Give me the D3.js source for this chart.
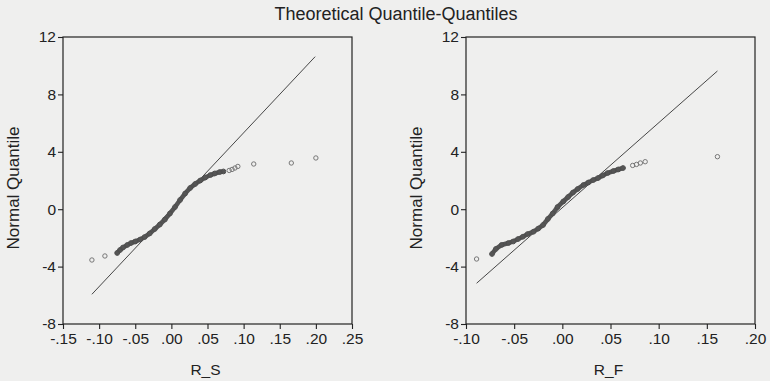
<!DOCTYPE html>
<html>
<head>
<meta charset="utf-8">
<script src="https://cdn.jsdelivr.net/npm/d3@7"></script>
<style>
  body { margin: 0; background: #efefee; }
  svg { display: block; }
  text { font-family: "Liberation Sans", Arial, sans-serif; fill: #222; }
</style>
</head>
<body>
<svg id="chart" width="770" height="381"></svg>
<script>
// shared axis ticks
const yTicks = [-8, -4, 0, 4, 8, 12];
const rsTicks = [-0.15, -0.10, -0.05, 0.00, 0.05, 0.10, 0.15, 0.20, 0.25];
const rfTicks = [-0.10, -0.05, 0.00, 0.05, 0.10, 0.15, 0.20];

// R_S: [sample quantile, normal quantile]
const rsBand = [
    [-0.075, -3.05], [-0.071, -2.84], [-0.067, -2.67], [-0.061, -2.49], [-0.056, -2.36],
    [-0.050, -2.25], [-0.043, -2.11], [-0.037, -1.94], [-0.030, -1.69], [-0.023, -1.38],
    [-0.016, -1.07], [-0.009, -0.72], [-0.002, -0.30], [0.005, 0.15], [0.012, 0.64],
    [0.019, 1.09], [0.026, 1.48], [0.033, 1.76], [0.040, 2.00], [0.047, 2.21],
    [0.054, 2.38], [0.060, 2.49], [0.067, 2.59], [0.072, 2.63]
];
const rsSparse = [
    [-0.110, -3.54], [-0.092, -3.26],
    [0.080, 2.70], [0.084, 2.77], [0.088, 2.87], [0.092, 2.98],
    [0.114, 3.15], [0.166, 3.22], [0.200, 3.57]
];
const rsLine = [[-0.110, -5.93], [0.199, 10.63]];

// R_F
const rfBand = [
    [-0.073, -3.12], [-0.069, -2.77], [-0.063, -2.49], [-0.056, -2.36], [-0.051, -2.25],
    [-0.046, -2.08], [-0.041, -1.92], [-0.036, -1.73], [-0.030, -1.57], [-0.025, -1.35],
    [-0.020, -1.10], [-0.015, -0.68], [-0.010, -0.30], [-0.005, 0.15], [0.001, 0.54],
    [0.006, 0.85], [0.011, 1.16], [0.016, 1.41], [0.022, 1.69], [0.027, 1.86],
    [0.032, 2.03], [0.037, 2.17], [0.042, 2.35], [0.047, 2.52], [0.053, 2.66],
    [0.058, 2.77], [0.063, 2.87]
];
const rfSparse = [
    [-0.089, -3.47],
    [0.073, 3.05], [0.077, 3.12], [0.081, 3.22], [0.086, 3.31],
    [0.161, 3.66]
];
const rfLine = [[-0.089, -5.16], [0.161, 9.63]];

const svg = d3.select("#chart");

svg.append("text")
    .attr("x", 396).attr("y", 20)
    .attr("text-anchor", "middle")
    .style("font-size", "18px")
    .text("Theoretical Quantile-Quantiles");

function tickLabel(d) {
    // EViews style: ".05", "-.10"
    return d.toFixed(2).replace("0.", ".");
}

function drawPanel(p) {
    const x = d3.scaleLinear().domain([p.ticks[0], p.ticks[p.ticks.length - 1]]).range([p.left, p.right]);
    const y = d3.scaleLinear().domain([-8, 12]).range([324, 37]);

    const g = svg.append("g");

    // x axis
    const xa = g.append("g").attr("transform", "translate(0,324)")
        .call(d3.axisBottom(x).tickValues(p.ticks).tickFormat(tickLabel).tickSizeOuter(0).tickSize(5).tickPadding(4));
    // y axis
    const ya = g.append("g").attr("transform", `translate(${p.left},0)`)
        .call(d3.axisLeft(y).tickValues(yTicks).tickFormat(d => String(d)).tickSizeOuter(0).tickSize(5).tickPadding(2));
    [xa, ya].forEach(a => {
        a.select(".domain").remove();
        a.selectAll("line").attr("stroke", "#222").attr("stroke-width", 1.1);
        a.selectAll("text").style("font-size", "15.5px").attr("fill", "#222")
            .style("font-family", '"Liberation Sans", Arial, sans-serif');
    });

    // frame
    g.append("rect")
        .attr("x", p.left).attr("y", 37)
        .attr("width", p.right - p.left).attr("height", 287)
        .attr("fill", "none").attr("stroke", "#222").attr("stroke-width", 1.2);

    // reference line
    g.append("line")
        .attr("x1", x(p.line[0][0])).attr("y1", y(p.line[0][1]))
        .attr("x2", x(p.line[1][0])).attr("y2", y(p.line[1][1]))
        .attr("stroke", "#333").attr("stroke-width", 0.9);

    // dense part of the sample: overlapping circles
    g.append("path")
        .datum(p.band)
        .attr("d", d3.line().x(d => x(d[0])).y(d => y(d[1])))
        .attr("fill", "none").attr("stroke", "#555")
        .attr("stroke-width", 4.6).attr("stroke-linecap", "round");
    g.selectAll("circle.band").data(p.band).enter().append("circle")
        .attr("class", "band")
        .attr("cx", d => x(d[0])).attr("cy", d => y(d[1])).attr("r", 2.4)
        .attr("fill", "none").attr("stroke", "#4e4e4e").attr("stroke-width", 1);
    g.selectAll("circle.sparse").data(p.sparse).enter().append("circle")
        .attr("class", "sparse")
        .attr("cx", d => x(d[0])).attr("cy", d => y(d[1])).attr("r", 2.2)
        .attr("fill", "none").attr("stroke", "#777").attr("stroke-width", 1);

    // axis titles
    g.append("text")
        .attr("transform", `translate(${p.left - 44},188) rotate(-90)`)
        .attr("text-anchor", "middle")
        .style("font-size", "17px")
        .text("Normal Quantile");
    g.append("text")
        .attr("x", (p.left + p.right) / 2 - 2).attr("y", 375)
        .attr("text-anchor", "middle")
        .style("font-size", "15.5px")
        .text(p.label);
}

drawPanel({ left: 63, right: 352, ticks: rsTicks, band: rsBand, sparse: rsSparse, line: rsLine, label: "R_S" });
drawPanel({ left: 466, right: 755, ticks: rfTicks, band: rfBand, sparse: rfSparse, line: rfLine, label: "R_F" });
</script>
</body>
</html>
